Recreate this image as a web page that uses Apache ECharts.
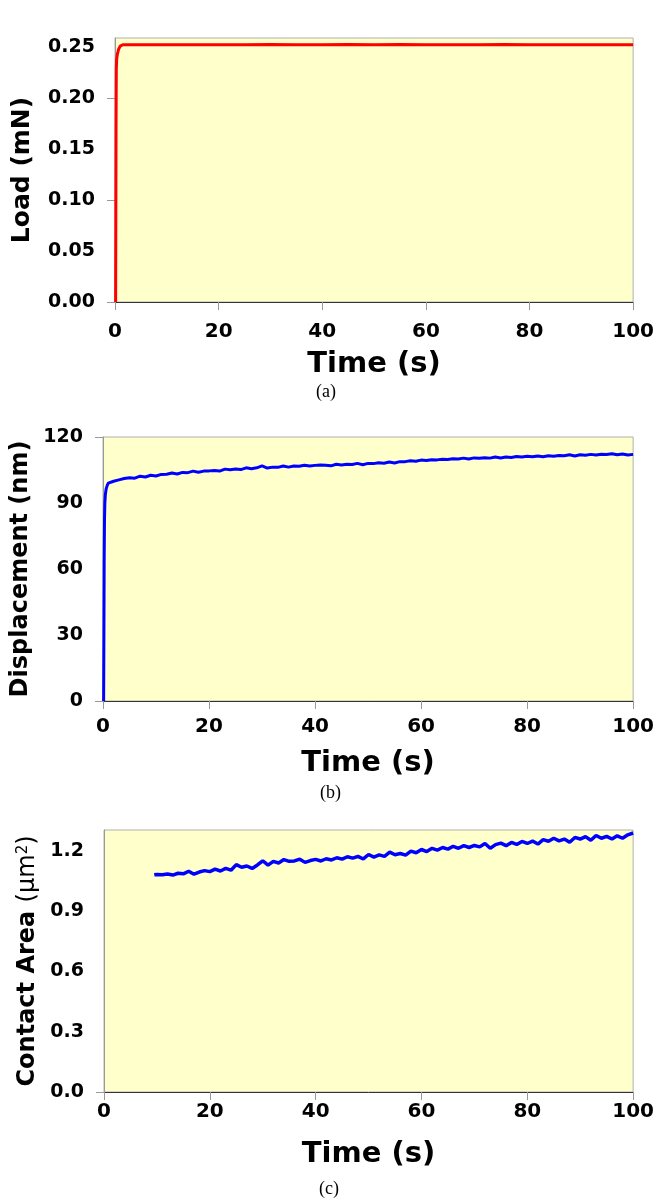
<!DOCTYPE html>
<html>
<head>
<meta charset="utf-8">
<script src="https://cdn.jsdelivr.net/npm/echarts@6/dist/echarts.min.js"></script>
<style>
  html, body { margin: 0; padding: 0; background: #fff; }
  #main { width: 657px; height: 1204px; }
</style>
</head>
<body>
<div id="main"></div>
<script>
// time axis ticks, shared by all three panels
const timeTicks = [0, 20, 40, 60, 80, 100];

// (a) load vs time  [t (s), load (mN)]
const loadData = [
  [0.12, 0], [0.16, 0.08], [0.2, 0.17], [0.25, 0.228], [0.32, 0.238], [0.45, 0.243],
  [0.7, 0.248], [1.0, 0.251], [1.5, 0.2524], [3, 0.2525], [6, 0.2524], [10, 0.2525],
  [15, 0.2524], [20, 0.2525], [25, 0.2524], [30, 0.2526], [35, 0.2525], [40, 0.2523],
  [45, 0.2527], [50, 0.2524], [55, 0.2526], [60, 0.2524], [65, 0.2525], [70, 0.2524],
  [75, 0.2526], [80, 0.2525], [85, 0.2524], [90, 0.2525], [95, 0.2524], [100, 0.2525]
];
const loadLabels = [0, 0.05, 0.10, 0.15, 0.20, 0.25];
const loadTicks = [0, 0.10, 0.20];

// (b) displacement vs time  [t (s), displacement (nm)]
const dispData = [
  [0.12, 0], [0.18, 35], [0.22, 62], [0.28, 82], [0.35, 90], [0.45, 94], [0.6, 96.5], [0.8, 98],
  [1, 99.0], [2, 99.9], [3, 100.5], [4, 101.1], [5, 101.5], [6, 101.3], [7, 102.2], [8, 101.8],
  [9, 102.6], [10, 102.3], [11, 103.0], [12, 103.1], [13, 103.6], [14, 103.2], [15, 103.9], [16, 103.8],
  [17, 104.5], [18, 104.0], [19, 104.5], [20, 104.6], [21, 104.8], [22, 104.5], [23, 105.4], [24, 105.1],
  [25, 105.5], [26, 105.2], [27, 106.0], [28, 105.6], [29, 106.0], [30, 106.9], [31, 105.9], [32, 106.3],
  [33, 106.2], [34, 106.8], [35, 106.3], [36, 106.8], [37, 106.7], [38, 107.2], [39, 106.8], [40, 107.1],
  [41, 107.3], [42, 107.2], [43, 106.9], [44, 107.6], [45, 107.3], [46, 107.6], [47, 107.5], [48, 108.0],
  [49, 107.4], [50, 108.0], [51, 107.9], [52, 108.3], [53, 108.1], [54, 108.6], [55, 108.2], [56, 108.8],
  [57, 108.8], [58, 109.2], [59, 109.0], [60, 109.5], [61, 109.3], [62, 109.7], [63, 109.6], [64, 109.9],
  [65, 109.8], [66, 110.1], [67, 110.0], [68, 110.4], [69, 110.0], [70, 110.5], [71, 110.3], [72, 110.6],
  [73, 110.4], [74, 110.9], [75, 110.5], [76, 110.9], [77, 110.7], [78, 111.1], [79, 110.9], [80, 111.2],
  [81, 111.0], [82, 111.4], [83, 111.0], [84, 111.5], [85, 111.3], [86, 111.6], [87, 111.5], [88, 111.9],
  [89, 111.4], [90, 111.9], [91, 111.7], [92, 112.1], [93, 111.8], [94, 112.2], [95, 112.0], [96, 112.4],
  [97, 111.9], [98, 112.3], [99, 111.8], [100, 112.1]
];
const dispLabels = [0, 30, 60, 90, 120];
const dispTicks = [0, 120];

// (c) contact area vs time  [t (s), area (um^2)]
const areaData = [
  [9.5, 1.080], [10, 1.082], [11, 1.080], [12, 1.084], [13, 1.079], [14, 1.088], [15, 1.085], [16, 1.098],
  [17, 1.083], [18, 1.094], [19, 1.101], [20, 1.096], [21, 1.108], [22, 1.099], [23, 1.112], [24, 1.103],
  [25, 1.131], [26, 1.118], [27, 1.124], [28, 1.112], [29, 1.129], [30, 1.150], [31, 1.128], [32, 1.147],
  [33, 1.139], [34, 1.156], [35, 1.147], [36, 1.149], [37, 1.158], [38, 1.142], [39, 1.151], [40, 1.157],
  [41, 1.149], [42, 1.160], [43, 1.154], [44, 1.165], [45, 1.158], [46, 1.170], [47, 1.163], [48, 1.172],
  [49, 1.159], [50, 1.181], [51, 1.168], [52, 1.179], [53, 1.172], [54, 1.193], [55, 1.180], [56, 1.186],
  [57, 1.178], [58, 1.198], [59, 1.190], [60, 1.206], [61, 1.196], [62, 1.212], [63, 1.203], [64, 1.216],
  [65, 1.208], [66, 1.222], [67, 1.212], [68, 1.225], [69, 1.216], [70, 1.226], [71, 1.219], [72, 1.236],
  [73, 1.212], [74, 1.230], [75, 1.238], [76, 1.225], [77, 1.241], [78, 1.231], [79, 1.246], [80, 1.236],
  [81, 1.248], [82, 1.233], [83, 1.255], [84, 1.247], [85, 1.262], [86, 1.249], [87, 1.258], [88, 1.242],
  [89, 1.266], [90, 1.258], [91, 1.270], [92, 1.252], [93, 1.276], [94, 1.262], [95, 1.271], [96, 1.258],
  [97, 1.274], [98, 1.262], [99, 1.279], [100, 1.288]
];
const areaLabels = [0, 0.3, 0.6, 0.9, 1.2];
const areaTicks = [0];

const FONT = 'DejaVu Sans';
const PLOT_BG = '#FFFFCC';

function grid(top, height, left) {
  return {
    left: left, right: 22, top: top, height: height,
    show: true, backgroundColor: PLOT_BG,
    borderColor: '#b0b0b0', borderWidth: 1
  };
}

function timeAxis(idx, labelMargin, nameGap) {
  return {
    type: 'value', gridIndex: idx, min: 0, max: 100, interval: 20,
    name: 'Time (s)', nameLocation: 'middle', nameGap: nameGap,
    nameTextStyle: { fontFamily: FONT, fontWeight: 'bold', fontSize: 29, color: '#000' },
    axisLine: { lineStyle: { color: '#333', width: 1 } },
    axisTick: { show: true, length: 8, lineStyle: { color: '#999' }, customValues: timeTicks },
    axisLabel: {
      fontFamily: FONT, fontWeight: 'bold', fontSize: 20, color: '#000',
      margin: labelMargin, customValues: timeTicks
    },
    splitLine: { show: false }
  };
}

function valueAxis(idx, max, labels, ticks, digits, name, nameGap, nameStyle) {
  return {
    type: 'value', gridIndex: idx, min: 0, max: max,
    name: name, nameLocation: 'middle', nameGap: nameGap,
    nameTextStyle: nameStyle,
    axisLine: { show: true, lineStyle: { color: '#999', width: 1 } },
    axisTick: { show: true, length: 8, lineStyle: { color: '#999' }, customValues: ticks },
    axisLabel: {
      fontFamily: FONT, fontWeight: 'bold', fontSize: 19, color: '#000', margin: 20,
      customValues: labels,
      formatter: v => v.toFixed(digits)
    },
    splitLine: { show: false }
  };
}

const titleStyle = { fontFamily: FONT, fontWeight: 'bold', fontSize: 24, color: '#000' };

const chart = echarts.init(document.getElementById('main'), null, { renderer: 'canvas' });
chart.setOption({
  animation: false,
  backgroundColor: '#fff',
  grid: [grid(38, 264, 115), grid(437, 264, 103), grid(830, 262, 104)],
  xAxis: [timeAxis(0, 20, 48), timeAxis(1, 16, 48), timeAxis(2, 10, 48)],
  yAxis: [
    valueAxis(0, 0.259, loadLabels, loadTicks, 2, 'Load (mN)', 80,
      Object.assign({}, titleStyle, { fontSize: 25 })),
    valueAxis(1, 120, dispLabels, dispTicks, 0, 'Displacement (nm)', 70, titleStyle),
    valueAxis(2, 1.303, areaLabels, areaTicks, 1,
      '{b|Contact Area }{n|(\u03bcm}{s|2}{n|)}', 64, {
        color: '#000',
        rich: {
          b: { fontFamily: FONT, fontWeight: 'bold', fontSize: 24, color: '#000' },
          n: { fontFamily: FONT, fontWeight: 'normal', fontSize: 24, color: '#000' },
          s: { fontFamily: FONT, fontWeight: 'normal', fontSize: 15, color: '#000', verticalAlign: 'top' }
        }
      })
  ],
  series: [
    { type: 'line', xAxisIndex: 0, yAxisIndex: 0, data: loadData, showSymbol: false,
      lineStyle: { color: '#FF0000', width: 3 } },
    { type: 'line', xAxisIndex: 1, yAxisIndex: 1, data: dispData, showSymbol: false,
      lineStyle: { color: '#0000FF', width: 3 } },
    { type: 'line', xAxisIndex: 2, yAxisIndex: 2, data: areaData, showSymbol: false,
      lineStyle: { color: '#0000FF', width: 3.5 } }
  ],
  graphic: [
    { type: 'text', left: 316, top: 383, style: { text: '(a)', font: '18px "Liberation Serif"', fill: '#000' } },
    { type: 'text', left: 320, top: 784, style: { text: '(b)', font: '18px "Liberation Serif"', fill: '#000' } },
    { type: 'text', left: 319, top: 1180, style: { text: '(c)', font: '18px "Liberation Serif"', fill: '#000' } }
  ]
});
</script>
</body>
</html>
